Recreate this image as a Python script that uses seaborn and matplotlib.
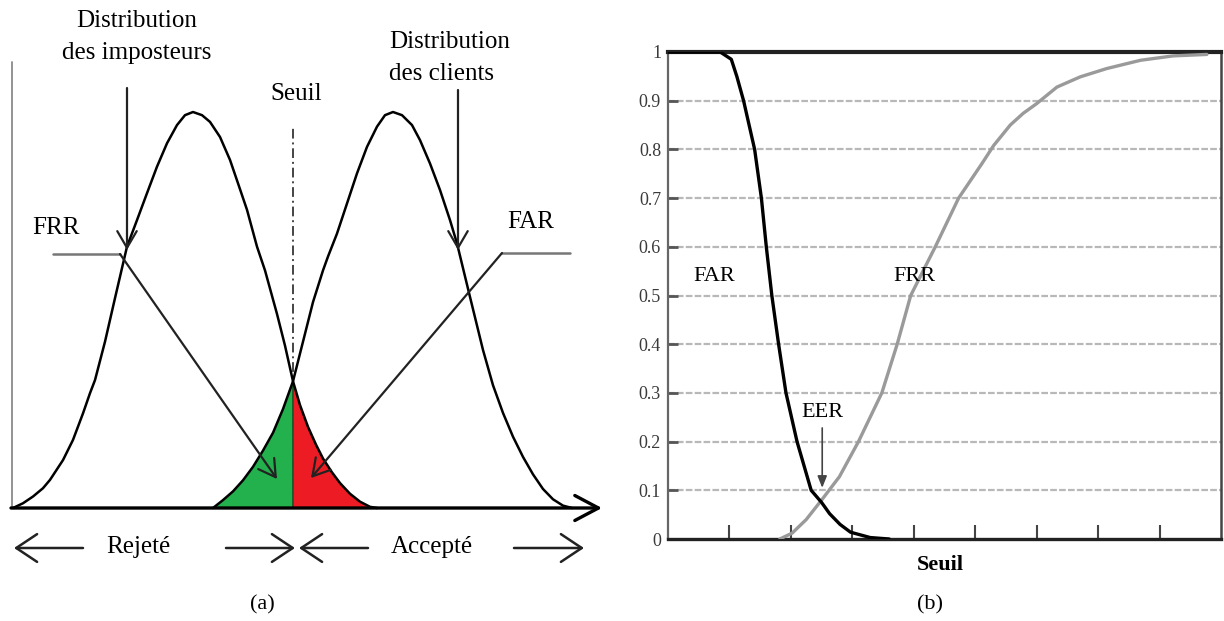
import numpy as np
import pandas as pd
import matplotlib
matplotlib.use("Agg")
import matplotlib.pyplot as plt
import seaborn as sns

# ---------------- data: panel (a) score distributions (normalised density) ----------------
imp_score = [13, 23, 33, 43, 50, 63, 73, 83, 90, 95, 105, 115, 127, 137, 147, 157, 167,
             177, 185, 193, 202, 210, 220, 230, 238, 247, 257, 265, 277, 285, 293, 300,
             308, 316, 323, 332, 340, 350, 360, 370, 377]
imp_density = [0.0, 0.012, 0.029, 0.05, 0.071, 0.121, 0.172, 0.239, 0.29, 0.323, 0.42,
               0.53, 0.66, 0.727, 0.795, 0.862, 0.921, 0.967, 0.992, 1.0, 0.992, 0.975,
               0.937, 0.879, 0.82, 0.753, 0.66, 0.60, 0.49, 0.41, 0.32, 0.26, 0.205,
               0.16, 0.125, 0.09, 0.063, 0.036, 0.016, 0.003, 0.0]
cli_score = [213, 223, 233, 243, 253, 263, 273, 283, 293, 303, 313, 323, 328, 337, 347,
             357, 367, 377, 385, 393, 402, 412, 420, 430, 440, 450, 457, 470, 483, 493,
             503, 513, 523, 533, 543, 553, 563, 572]
cli_density = [0.0, 0.02, 0.042, 0.07, 0.104, 0.145, 0.19, 0.25, 0.32, 0.42, 0.52, 0.60,
               0.635, 0.693, 0.769, 0.845, 0.912, 0.963, 0.992, 1.0, 0.992, 0.967, 0.929,
               0.87, 0.803, 0.727, 0.668, 0.533, 0.399, 0.31, 0.24, 0.18, 0.129, 0.085,
               0.048, 0.022, 0.006, 0.0]
threshold = 293

# ---------------- data: panel (b) error rates vs threshold ----------------
far_x = [0.0, 0.5, 0.85, 1.03, 1.12, 1.23, 1.41, 1.52, 1.60, 1.69, 1.80, 1.92, 2.10,
         2.33, 2.50, 2.63, 2.80, 2.97, 3.29, 3.60]
far_y = [1.0, 1.0, 1.0, 0.985, 0.95, 0.9, 0.8, 0.7, 0.6, 0.5, 0.4, 0.3, 0.2, 0.1,
         0.075, 0.052, 0.03, 0.014, 0.003, 0.0]
frr_x = [1.82, 2.02, 2.25, 2.50, 2.79, 3.10, 3.48, 3.73, 3.95, 4.35, 4.73, 5.11, 5.30,
         5.57, 5.78, 6.00, 6.33, 6.71, 7.14, 7.69, 8.22, 8.77]
frr_y = [0.0, 0.012, 0.04, 0.08, 0.128, 0.2, 0.3, 0.4, 0.5, 0.6, 0.7, 0.771, 0.808,
         0.85, 0.874, 0.894, 0.928, 0.949, 0.966, 0.983, 0.992, 0.995]
y_ticks = [0, 0.1, 0.2, 0.3, 0.4, 0.5, 0.6, 0.7, 0.8, 0.9, 1.0]
y_tick_labels = ["0", "0.1", "0.2", "0.3", "0.4", "0.5", "0.6", "0.7", "0.8", "0.9", "1"]
x_ticks = [1, 2, 3, 4, 5, 6, 7, 8]

sns.set_theme(style="white")
plt.rcParams["font.family"] = ["Liberation Serif", "DejaVu Serif"]
plt.rcParams["text.color"] = "black"

W, H = 1224, 621
fig = plt.figure(figsize=(W / 100, H / 100), dpi=100)

# ================= panel (a) =================
ax1 = fig.add_axes([0, 0, 0.5, 1])
ax1.set_axis_off()
BASE, PEAK = 508, 396


def Y(py):
    return (BASE - py) / PEAK


imp_df = pd.DataFrame({"score": imp_score, "density": imp_density})
cli_df = pd.DataFrame({"score": cli_score, "density": cli_density})
cs = np.array(cli_score)
isc = np.array(imp_score)
ax1.fill_between(cs, 0, cli_density, where=cs <= threshold, color="#22b14c", lw=0, zorder=1)
ax1.fill_between(isc, 0, imp_density, where=isc >= threshold, color="#ed1c24", lw=0, zorder=1)
sns.lineplot(data=imp_df, x="score", y="density", ax=ax1, color="black", lw=1.8,
             estimator=None, sort=False, zorder=3)
sns.lineplot(data=cli_df, x="score", y="density", ax=ax1, color="black", lw=1.8,
             estimator=None, sort=False, zorder=3)
ax1.set_xlim(0, 612)
ax1.set_ylim(Y(621), Y(0))

# threshold line
ax1.plot([threshold, threshold], [0, Y(128)], color="#444444", lw=1.4,
         ls=(0, (5, 2, 1, 2)), zorder=2)
ax1.plot([threshold, threshold], [0, 0.32], color="#1a5e2a", lw=1.4, zorder=2)
# vertical axis
ax1.plot([12, 12], [0, Y(62)], color="#8a8a8a", lw=1.3, zorder=2)
# horizontal axis with arrow
ax1.annotate("", xy=(602, 0), xytext=(11, 0),
             arrowprops=dict(arrowstyle="->,head_length=0.85,head_width=0.45",
                             mutation_scale=20, lw=2.4, color="black",
                             shrinkA=0, shrinkB=0), zorder=4)

arrow_kw = dict(arrowstyle="->,head_length=0.6,head_width=0.35", mutation_scale=20,
                lw=1.6, color="#222222", shrinkA=0, shrinkB=0)
# distribution pointers
ax1.annotate("", xy=(127, Y(250)), xytext=(127, Y(88)), arrowprops=arrow_kw)
ax1.annotate("", xy=(458, Y(250)), xytext=(458, Y(90)), arrowprops=arrow_kw)
# FRR leader
ax1.plot([53, 120], [Y(254), Y(254)], color="#777777", lw=1.8)
ax1.annotate("", xy=(277, Y(479)), xytext=(120, Y(254)), arrowprops=arrow_kw)
# FAR leader
ax1.plot([502, 570], [Y(253), Y(253)], color="#777777", lw=1.8)
ax1.annotate("", xy=(311, Y(478)), xytext=(502, Y(253)), arrowprops=arrow_kw)

# Rejeté / Accepté arrows
bot_kw = dict(arrowstyle="->,head_length=0.75,head_width=0.5", mutation_scale=20,
              lw=1.8, color="#222222", shrinkA=0, shrinkB=0)
yb = Y(548)
ax1.annotate("", xy=(14, yb), xytext=(83, yb), arrowprops=bot_kw)
ax1.annotate("", xy=(295, yb), xytext=(226, yb), arrowprops=bot_kw)
ax1.annotate("", xy=(299, yb), xytext=(368, yb), arrowprops=bot_kw)
ax1.annotate("", xy=(584, yb), xytext=(514, yb), arrowprops=bot_kw)

fs_a = 18
ax1.text(137, Y(37), "Distribution\ndes imposteurs", ha="center", va="center",
         fontsize=fs_a, linespacing=1.55)
ax1.text(389, Y(58), "Distribution\ndes clients", ha="left", va="center",
         fontsize=fs_a, linespacing=1.55)
ax1.text(296, Y(94), "Seuil", ha="center", va="center", fontsize=fs_a)
ax1.text(32, Y(228), "FRR", ha="left", va="center", fontsize=fs_a)
ax1.text(507, Y(222), "FAR", ha="left", va="center", fontsize=fs_a)
ax1.text(138, Y(547), "Rejeté", ha="center", va="center", fontsize=fs_a)
ax1.text(432, Y(547), "Accepté", ha="center", va="center", fontsize=fs_a)
fig.text(262 / W, 1 - 605 / H, "(a)", ha="center", va="center", fontsize=16)

# ================= panel (b) =================
ax2 = fig.add_axes([668 / W, 1 - 539 / H, (1221 - 668) / W, (539 - 52) / H])
for yv in y_ticks[1:-1]:
    ax2.axhline(yv, color="#b8b8b8", lw=1.6, ls=(0, (3, 1)), zorder=0)
far_df = pd.DataFrame({"seuil": far_x, "taux": far_y})
frr_df = pd.DataFrame({"seuil": frr_x, "taux": frr_y})
sns.lineplot(data=frr_df, x="seuil", y="taux", ax=ax2, color="#9a9a9a", lw=2.4,
             estimator=None, sort=False, zorder=3)
sns.lineplot(data=far_df, x="seuil", y="taux", ax=ax2, color="black", lw=2.4,
             estimator=None, sort=False, zorder=4)
ax2.set_xlim(0, 9)
ax2.set_ylim(0, 1)
ax2.set_yticks(y_ticks)
ax2.set_yticklabels(y_tick_labels, fontsize=13, color="#3a3a3a")
ax2.set_xticks(x_ticks)
ax2.set_xticklabels([])
ax2.set_xlabel("")
ax2.set_ylabel("")
ax2.tick_params(axis="y", left=True, direction="in", length=7, width=2,
                color="#555555", pad=5)
ax2.tick_params(axis="x", bottom=True, direction="in", length=10, width=1.5,
                color="#444444")
for side, lw, col in [("top", 3.0, "#222222"), ("bottom", 2.4, "#222222"),
                      ("left", 1.6, "#666666"), ("right", 1.8, "#444444")]:
    ax2.spines[side].set_visible(True)
    ax2.spines[side].set_linewidth(lw)
    ax2.spines[side].set_color(col)

ax2.text(0.41, 0.54, "FAR", ha="left", va="center", fontsize=16)
ax2.text(3.66, 0.54, "FRR", ha="left", va="center", fontsize=16)
ax2.text(2.17, 0.26, "EER", ha="left", va="center", fontsize=16)
ax2.annotate("", xy=(2.51, 0.105), xytext=(2.51, 0.228),
             arrowprops=dict(arrowstyle="-|>,head_length=0.5,head_width=0.2",
                             mutation_scale=14, lw=1.2, color="#444444",
                             shrinkA=0, shrinkB=0))
fig.text(940 / W, 1 - 565 / H, "Seuil", ha="center", va="center", fontsize=16,
         fontweight="bold")
fig.text(930 / W, 1 - 605 / H, "(b)", ha="center", va="center", fontsize=16)

fig.savefig("out.png", dpi=100)
